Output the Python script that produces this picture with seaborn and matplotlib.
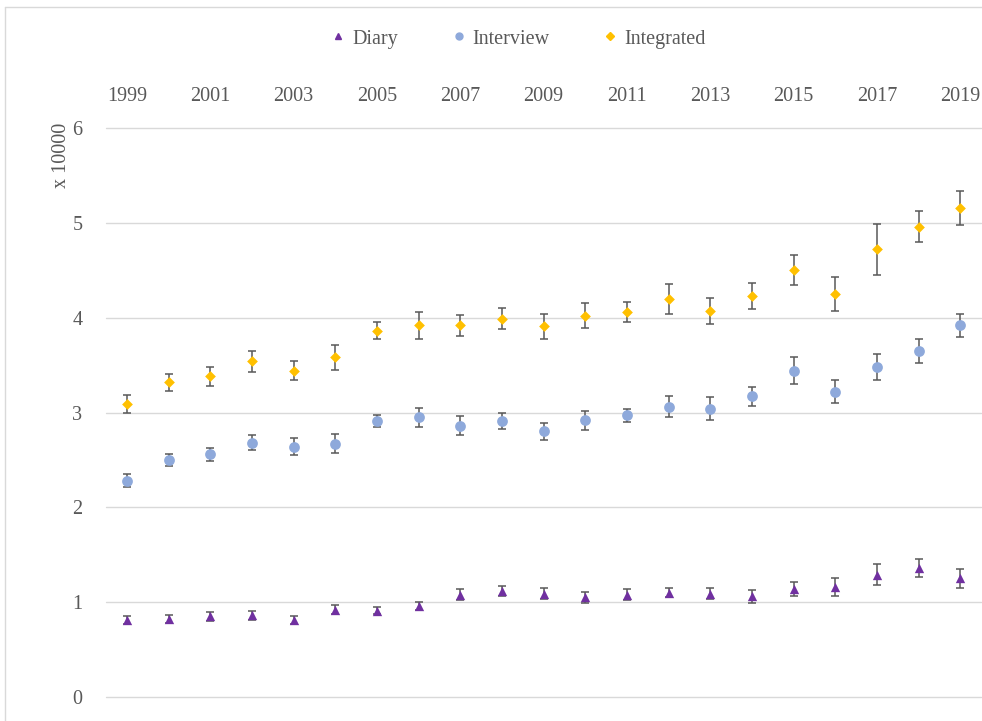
import matplotlib
matplotlib.use("Agg")
import matplotlib.pyplot as plt
import seaborn as sns
import pandas as pd
from matplotlib.lines import Line2D

years = list(range(1999, 2020))

diary = [0.81, 0.82, 0.85, 0.86, 0.81, 0.92, 0.91, 0.96, 1.08, 1.12, 1.09,
         1.05, 1.08, 1.10, 1.09, 1.06, 1.14, 1.16, 1.29, 1.36, 1.25]
diary_err = [0.04, 0.04, 0.05, 0.045, 0.04, 0.05, 0.04, 0.04, 0.055, 0.05, 0.06,
             0.055, 0.06, 0.05, 0.055, 0.065, 0.075, 0.10, 0.11, 0.09, 0.10]

interview = [2.28, 2.50, 2.56, 2.68, 2.64, 2.67, 2.91, 2.95, 2.86, 2.91, 2.80,
             2.92, 2.97, 3.06, 3.04, 3.17, 3.44, 3.22, 3.48, 3.65, 3.92]
interview_err = [0.07, 0.06, 0.07, 0.08, 0.09, 0.10, 0.06, 0.10, 0.10, 0.08, 0.09,
                 0.10, 0.07, 0.11, 0.12, 0.10, 0.14, 0.12, 0.14, 0.13, 0.12]

integrated = [3.09, 3.32, 3.38, 3.54, 3.44, 3.58, 3.86, 3.92, 3.92, 3.99, 3.91,
              4.02, 4.06, 4.20, 4.07, 4.23, 4.50, 4.25, 4.72, 4.96, 5.16]
integrated_err = [0.09, 0.09, 0.10, 0.11, 0.10, 0.13, 0.09, 0.14, 0.11, 0.11, 0.13,
                  0.13, 0.11, 0.16, 0.14, 0.14, 0.16, 0.18, 0.27, 0.16, 0.18]

series = ["Diary", "Interview", "Integrated"]
colors = {"Diary": "#7030A0", "Interview": "#8EA9DB", "Integrated": "#FFC000"}
markers = {"Diary": "^", "Interview": "o", "Integrated": "D"}
sizes = {"Diary": 45, "Interview": 60, "Integrated": 30}

df = pd.concat([
    pd.DataFrame({"year": years, "value": diary, "err": diary_err, "series": "Diary"}),
    pd.DataFrame({"year": years, "value": interview, "err": interview_err, "series": "Interview"}),
    pd.DataFrame({"year": years, "value": integrated, "err": integrated_err, "series": "Integrated"}),
])

sns.set_theme(style="white")
plt.rcParams["font.family"] = ["Liberation Serif", "DejaVu Serif"]
txt = "#595959"
fs = 14.5

fig = plt.figure(figsize=(9.82, 7.21), dpi=100)
ax = fig.add_axes([106 / 982, 1 - 697 / 721, 875 / 982, (697 - 128) / 721])

for s in series:
    d = df[df.series == s]
    ax.errorbar(d.year, d.value, yerr=d.err, fmt="none", ecolor="#595959",
                elinewidth=1.1, capsize=3.2, capthick=1.1, zorder=2)
    sns.scatterplot(data=d, x="year", y="value", ax=ax, color=colors[s],
                    marker=markers[s], s=sizes[s], linewidth=0, zorder=3,
                    legend=False)

ax.set_xlim(1998.5, 2019.5)
ax.set_ylim(0, 6)
ax.set_yticks(range(0, 7))
ax.set_xticks(years[::2])
ax.xaxis.tick_top()
ax.tick_params(axis="x", length=0, pad=16, labelsize=fs, labelcolor=txt)
ax.tick_params(axis="y", length=0, pad=17, labelsize=fs, labelcolor=txt)
ax.grid(axis="y", color="#D9D9D9", linewidth=1)
ax.grid(axis="x", visible=False)
for gl in ax.get_ygridlines():
    gl.set_clip_on(False)
for sp in ax.spines.values():
    sp.set_visible(False)
ax.set_xlabel("")
ax.set_ylabel("")

fig.text(62 / 982, 1 - 155 / 721, "x 10000", rotation=90, ha="center",
         va="center", fontsize=fs, color=txt)

handles = [Line2D([], [], linestyle="none", marker=markers[s], color=colors[s],
                  markersize=5 if s != "Integrated" else 4) for s in series]
fig.legend(handles, series, loc="center", bbox_to_anchor=(517 / 982, 1 - 39 / 721),
           ncol=3, frameon=False, fontsize=fs, labelcolor=txt,
           handletextpad=0.2, columnspacing=2.5, handlelength=1.0)

# chart border
fig.add_artist(Line2D([5 / 982, 5 / 982], [0, 1 - 7 / 721], transform=fig.transFigure,
                      color="#D9D9D9", linewidth=1))
fig.add_artist(Line2D([5 / 982, 1], [1 - 7 / 721, 1 - 7 / 721], transform=fig.transFigure,
                      color="#D9D9D9", linewidth=1))

fig.savefig("out.png", dpi=100)
